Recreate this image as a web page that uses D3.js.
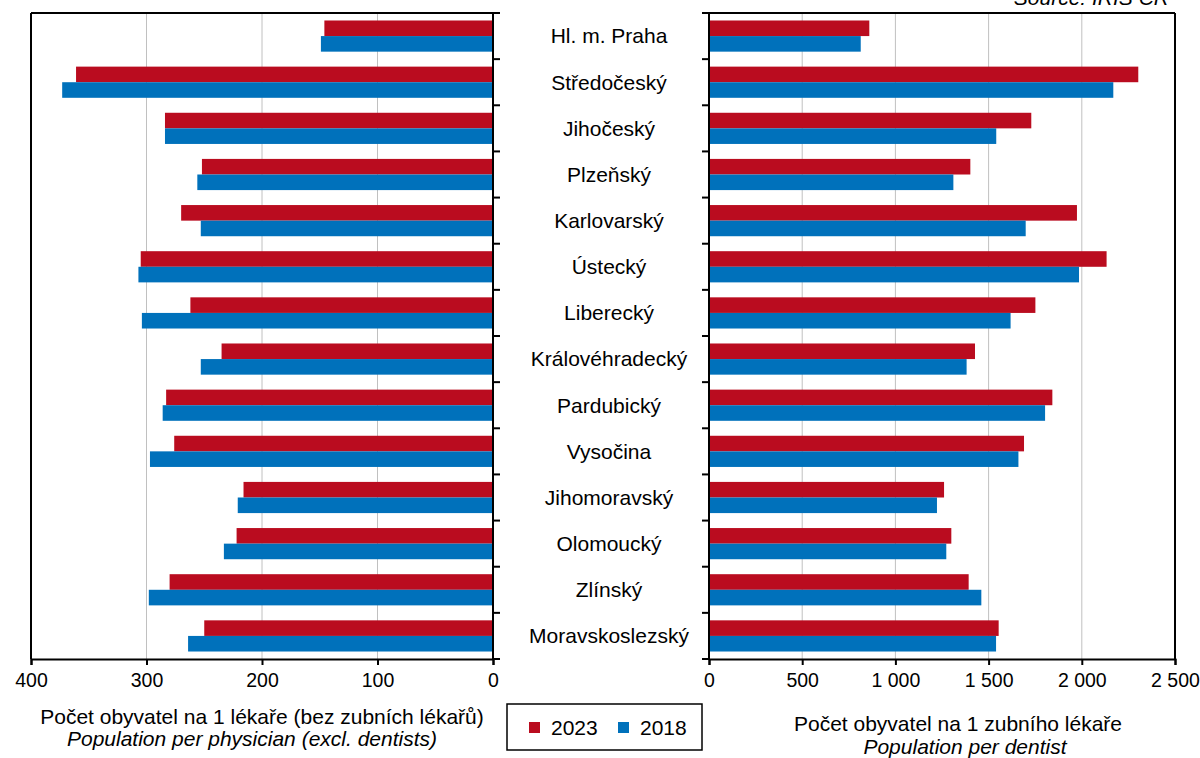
<!DOCTYPE html>
<html>
<head>
<meta charset="utf-8">
<script src="https://cdn.jsdelivr.net/npm/d3@7"></script>
<style>
  body { margin: 0; background: #fff; }
  text { font-family: "Liberation Sans", Arial, sans-serif; fill: #000; }
</style>
</head>
<body>
<div id="chart"></div>
<script>
var regions = ["Hl. m. Praha", "Středočeský", "Jihočeský", "Plzeňský", "Karlovarský", "Ústecký",
  "Liberecký", "Královéhradecký", "Pardubický", "Vysočina", "Jihomoravský", "Olomoucký",
  "Zlínský", "Moravskoslezský"];
var years = ["2023", "2018"];
// population per physician (excl. dentists)
var physician2023 = [146, 361, 284, 252, 270, 305, 262, 235, 283, 276, 216, 222, 280, 250];
var physician2018 = [149, 373, 284, 256, 253, 307, 304, 253, 286, 297, 221, 233, 298, 264];
// population per dentist
var dentist2023 = [860, 2303, 1729, 1402, 1974, 2133, 1751, 1427, 1842, 1690, 1261, 1300, 1393, 1554];
var dentist2018 = [814, 2169, 1541, 1311, 1699, 1985, 1618, 1382, 1803, 1660, 1223, 1273, 1461, 1540];
var leftTicks = [400, 300, 200, 100, 0];
var rightTicks = [0, 500, 1000, 1500, 2000, 2500];
var colors = { "2023": "#ba0c1f", "2018": "#0071bb" };

var W = 1200, H = 758;
var top0 = 13, bottom0 = 659;

var svg = d3.select("#chart").append("svg")
  .attr("width", W).attr("height", H);

var yScale = d3.scaleBand().domain(regions).range([top0, bottom0]);
var ySub = d3.scaleBand().domain(years).range([0, yScale.bandwidth()]).paddingOuter(0.48);

var xLeft = d3.scaleLinear().domain([0, 400]).range([493, 31]);
var xRight = d3.scaleLinear().domain([0, 2500]).range([709, 1175]);

var loc = d3.formatLocale({ decimal: ",", thousands: " ", grouping: [3], currency: ["", ""] });
var fmt = loc.format(",d");

function rows(a, b) {
  return regions.map(function (r, i) {
    return { region: r, vals: [{ year: "2023", v: a[i] }, { year: "2018", v: b[i] }] };
  });
}

// ---- gridlines
svg.append("g").selectAll("line").data([100, 200, 300]).enter().append("line")
  .attr("x1", function (d) { return xLeft(d); }).attr("x2", function (d) { return xLeft(d); })
  .attr("y1", top0).attr("y2", bottom0)
  .attr("stroke", "#c0c0c0").attr("stroke-width", 1);
svg.append("g").selectAll("line").data([500, 1000, 1500, 2000]).enter().append("line")
  .attr("x1", function (d) { return xRight(d); }).attr("x2", function (d) { return xRight(d); })
  .attr("y1", top0).attr("y2", bottom0)
  .attr("stroke", "#c0c0c0").attr("stroke-width", 1);

// ---- bars left
var gl = svg.append("g").selectAll("g").data(rows(physician2023, physician2018)).enter().append("g")
  .attr("transform", function (d) { return "translate(0," + yScale(d.region) + ")"; });
gl.selectAll("rect").data(function (d) { return d.vals; }).enter().append("rect")
  .attr("x", function (d) { return xLeft(d.v); })
  .attr("width", function (d) { return xLeft(0) - xLeft(d.v); })
  .attr("y", function (d) { return ySub(d.year); })
  .attr("height", ySub.bandwidth())
  .attr("fill", function (d) { return colors[d.year]; });

// ---- bars right
var gr = svg.append("g").selectAll("g").data(rows(dentist2023, dentist2018)).enter().append("g")
  .attr("transform", function (d) { return "translate(0," + yScale(d.region) + ")"; });
gr.selectAll("rect").data(function (d) { return d.vals; }).enter().append("rect")
  .attr("x", xRight(0))
  .attr("width", function (d) { return xRight(d.v) - xRight(0); })
  .attr("y", function (d) { return ySub(d.year); })
  .attr("height", ySub.bandwidth())
  .attr("fill", function (d) { return colors[d.year]; });

// ---- frames
function frame(x1, x2) {
  svg.append("line").attr("x1", x1).attr("x2", x2).attr("y1", top0).attr("y2", top0)
    .attr("stroke", "#000").attr("stroke-width", 2);
}
frame(31, 493);
frame(709, 1175);
svg.append("line").attr("x1", 31).attr("x2", 31).attr("y1", top0).attr("y2", bottom0)
  .attr("stroke", "#000").attr("stroke-width", 2);
svg.append("line").attr("x1", 1175).attr("x2", 1175).attr("y1", top0).attr("y2", bottom0)
  .attr("stroke", "#000").attr("stroke-width", 2);

// category boundary ticks
var bounds = regions.map(function (r) { return yScale(r); }).concat([bottom0]);
var leftAx = svg.append("g");
leftAx.append("line").attr("x1", 493).attr("x2", 493).attr("y1", top0).attr("y2", bottom0)
  .attr("stroke", "#000").attr("stroke-width", 2);
leftAx.selectAll(".bt").data(bounds).enter().append("line")
  .attr("x1", 493).attr("x2", 500)
  .attr("y1", function (d) { return d; }).attr("y2", function (d) { return d; })
  .attr("stroke", "#000").attr("stroke-width", 2);
var rightAx = svg.append("g");
rightAx.append("line").attr("x1", 709).attr("x2", 709).attr("y1", top0).attr("y2", bottom0)
  .attr("stroke", "#000").attr("stroke-width", 2);
rightAx.selectAll(".bt").data(bounds).enter().append("line")
  .attr("x1", 702).attr("x2", 709)
  .attr("y1", function (d) { return d; }).attr("y2", function (d) { return d; })
  .attr("stroke", "#000").attr("stroke-width", 2);

// bottom axes
var axL = svg.append("g").attr("transform", "translate(0," + bottom0 + ")")
  .call(d3.axisBottom(xLeft).tickValues(leftTicks).tickSize(6).tickPadding(8));
var axR = svg.append("g").attr("transform", "translate(0," + bottom0 + ")")
  .call(d3.axisBottom(xRight).tickValues(rightTicks).tickFormat(fmt).tickSize(6).tickPadding(8));
[axL, axR].forEach(function (ax) {
  ax.select(".domain").attr("stroke", "#000").attr("stroke-width", 2);
  ax.selectAll(".tick line").attr("stroke", "#000").attr("stroke-width", 2);
  ax.selectAll(".tick text").attr("font-size", 19.5).attr("font-family", "Liberation Sans, Arial, sans-serif");
});

// category labels
svg.append("g").selectAll("text").data(regions).enter().append("text")
  .attr("x", 609)
  .attr("y", function (d) { return yScale(d) + yScale.bandwidth() / 2; })
  .attr("dy", "0.35em")
  .attr("text-anchor", "middle")
  .attr("font-size", 21)
  .text(function (d) { return d; });

// axis titles
svg.append("text").attr("x", 262).attr("y", 724).attr("text-anchor", "middle")
  .attr("font-size", 21).text("Počet obyvatel na 1 lékaře (bez zubních lékařů)");
svg.append("text").attr("x", 252).attr("y", 746).attr("text-anchor", "middle")
  .attr("font-size", 21).attr("font-style", "italic").text("Population per physician (excl. dentists)");
svg.append("text").attr("x", 958).attr("y", 731).attr("text-anchor", "middle")
  .attr("font-size", 21).text("Počet obyvatel na 1 zubního lékaře");
svg.append("text").attr("x", 965).attr("y", 754).attr("text-anchor", "middle")
  .attr("font-size", 21).attr("font-style", "italic").text("Population per dentist");

// source
svg.append("text").attr("x", 1169).attr("y", 5).attr("text-anchor", "end")
  .attr("font-size", 21).attr("font-style", "italic").text("Source: IRIS ČR");

// legend
var lg = svg.append("g").attr("transform", "translate(507,704)");
lg.append("rect").attr("width", 195).attr("height", 46)
  .attr("fill", "#fff").attr("stroke", "#000").attr("stroke-width", 1.5);
var li = lg.selectAll(".li").data(years).enter().append("g")
  .attr("transform", function (d, i) { return "translate(" + (22 + i * 89) + ",0)"; });
li.append("rect").attr("x", 0).attr("y", 18).attr("width", 11).attr("height", 11)
  .attr("fill", function (d) { return colors[d]; });
li.append("text").attr("x", 22).attr("y", 30.5).attr("font-size", 21)
  .text(function (d) { return d; });
</script>
</body>
</html>
